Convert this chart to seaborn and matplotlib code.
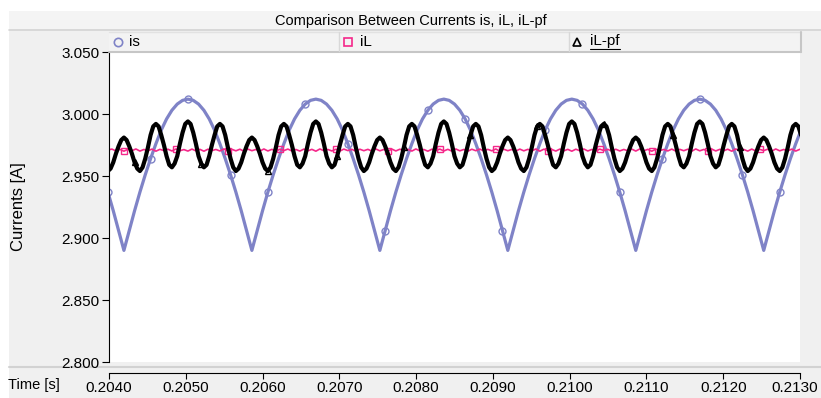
import numpy as np
import matplotlib
matplotlib.use('Agg')
import matplotlib.pyplot as plt
import matplotlib.transforms as mtransforms
import seaborn as sns
from matplotlib.patches import Rectangle
from matplotlib.lines import Line2D

# ---- data ----
title = "Comparison Between Currents is, iL, iL-pf"
series_names = ["is", "iL", "iL-pf"]
x_ticks = [0.2040, 0.2050, 0.2060, 0.2070, 0.2080, 0.2090, 0.2100, 0.2110, 0.2120, 0.2130]
x_labels = ["0.2040", "0.2050", "0.2060", "0.2070", "0.2080", "0.2090", "0.2100", "0.2110", "0.2120", "0.2130"]
y_ticks = [2.800, 2.850, 2.900, 2.950, 3.000, 3.050]
y_labels = ["2.800", "2.850", "2.900", "2.950", "3.000", "3.050"]

# sampling of the traces
t_first = 0.203986
is_period = 1 / 600
is_step = is_period / 24
il_step = is_period / 32
pf_step = is_period / 48

# source current is (rectified-looking humps)
is_vals = [
    2.937, 2.922, 2.906,
    2.890, 2.906, 2.922, 2.937, 2.951, 2.964, 2.976, 2.987, 2.996, 3.003, 3.008, 3.011,
    3.012, 3.011, 3.008, 3.003, 2.996, 2.987, 2.976, 2.964, 2.951, 2.937, 2.922, 2.906,
    2.890, 2.906, 2.922, 2.937, 2.951, 2.964, 2.976, 2.987, 2.996, 3.003, 3.008, 3.011,
    3.012, 3.011, 3.008, 3.003, 2.996, 2.987, 2.976, 2.964, 2.951, 2.937, 2.922, 2.906,
    2.890, 2.906, 2.922, 2.937, 2.951, 2.964, 2.976, 2.987, 2.996, 3.003, 3.008, 3.011,
    3.012, 3.011, 3.008, 3.003, 2.996, 2.987, 2.976, 2.964, 2.951, 2.937, 2.922, 2.906,
    2.890, 2.906, 2.922, 2.937, 2.951, 2.964, 2.976, 2.987, 2.996, 3.003, 3.008, 3.011,
    3.012, 3.011, 3.008, 3.003, 2.996, 2.987, 2.976, 2.964, 2.951, 2.937, 2.922, 2.906,
    2.890, 2.906, 2.922, 2.937, 2.951, 2.964, 2.976, 2.987, 2.996, 3.003, 3.008, 3.011,
    3.012, 3.011, 3.008, 3.003, 2.996, 2.987, 2.976, 2.964, 2.951, 2.937, 2.922, 2.906,
    2.890, 2.906, 2.922, 2.937, 2.951, 2.964, 2.976, 2.987,
]

# load current iL (flat with small ripple)
il_vals = [
    2.9710, 2.9717, 2.9702, 2.9715, 2.9700, 2.9716, 2.9704, 2.9718, 2.9701, 2.9714, 2.9703, 2.9717, 2.9700, 2.9715, 2.9705, 2.9716,
    2.9702, 2.9718, 2.9704, 2.9713, 2.9701, 2.9717, 2.9703, 2.9715, 2.9700, 2.9716, 2.9705, 2.9714, 2.9702, 2.9718, 2.9701, 2.9715,
    2.9703, 2.9716, 2.9700, 2.9717, 2.9704, 2.9714, 2.9701, 2.9718, 2.9702, 2.9715, 2.9700, 2.9716, 2.9705, 2.9717, 2.9702, 2.9714,
    2.9701, 2.9717, 2.9703, 2.9715, 2.9700, 2.9718, 2.9704, 2.9714, 2.9702, 2.9716, 2.9701, 2.9717, 2.9705, 2.9715, 2.9700, 2.9716,
    2.9704, 2.9715, 2.9701, 2.9718, 2.9703, 2.9714, 2.9700, 2.9717, 2.9702, 2.9716, 2.9704, 2.9715, 2.9701, 2.9718, 2.9703, 2.9714,
    2.9700, 2.9716, 2.9705, 2.9717, 2.9702, 2.9715, 2.9701, 2.9718, 2.9703, 2.9714, 2.9700, 2.9716, 2.9704, 2.9717, 2.9702, 2.9715,
    2.9703, 2.9718, 2.9700, 2.9716, 2.9704, 2.9714, 2.9701, 2.9717, 2.9703, 2.9715, 2.9702, 2.9718, 2.9700, 2.9716, 2.9705, 2.9714,
    2.9701, 2.9717, 2.9703, 2.9715, 2.9700, 2.9716, 2.9704, 2.9718, 2.9702, 2.9714, 2.9701, 2.9717, 2.9705, 2.9715, 2.9700, 2.9716,
    2.9702, 2.9714, 2.9704, 2.9717, 2.9701, 2.9718, 2.9703, 2.9715, 2.9700, 2.9716, 2.9705, 2.9714, 2.9702, 2.9717, 2.9701, 2.9715,
    2.9704, 2.9716, 2.9700, 2.9718, 2.9703, 2.9714, 2.9701, 2.9717, 2.9702, 2.9715, 2.9704, 2.9716, 2.9700, 2.9718, 2.9703, 2.9714,
    2.9701, 2.9717, 2.9702, 2.9715, 2.9705, 2.9716, 2.9700, 2.9718, 2.9703, 2.9714, 2.9702, 2.9717, 2.9701, 2.9715, 2.9710,
]

# filter current iL-pf (four ripples per is period)
ilpf_vals = [
    2.954, 2.956, 2.961, 2.968, 2.974, 2.979,
    2.981, 2.979, 2.974, 2.968, 2.961, 2.956, 2.954, 2.957, 2.964, 2.973, 2.983, 2.990,
    2.992, 2.990, 2.983, 2.975, 2.966, 2.959, 2.957, 2.960, 2.966, 2.976, 2.985, 2.992,
    2.994, 2.992, 2.985, 2.976, 2.966, 2.960, 2.957, 2.959, 2.966, 2.975, 2.983, 2.990,
    2.992, 2.990, 2.983, 2.973, 2.964, 2.957, 2.954, 2.956, 2.961, 2.968, 2.974, 2.979,
    2.981, 2.979, 2.974, 2.968, 2.961, 2.956, 2.954, 2.957, 2.964, 2.973, 2.983, 2.990,
    2.992, 2.990, 2.983, 2.975, 2.966, 2.959, 2.957, 2.960, 2.966, 2.976, 2.985, 2.992,
    2.994, 2.992, 2.985, 2.976, 2.966, 2.960, 2.957, 2.959, 2.966, 2.975, 2.983, 2.990,
    2.992, 2.990, 2.983, 2.973, 2.964, 2.957, 2.954, 2.956, 2.961, 2.968, 2.974, 2.979,
    2.981, 2.979, 2.974, 2.968, 2.961, 2.956, 2.954, 2.957, 2.964, 2.973, 2.983, 2.990,
    2.992, 2.990, 2.983, 2.975, 2.966, 2.959, 2.957, 2.960, 2.966, 2.976, 2.985, 2.992,
    2.994, 2.992, 2.985, 2.976, 2.966, 2.960, 2.957, 2.959, 2.966, 2.975, 2.983, 2.990,
    2.992, 2.990, 2.983, 2.973, 2.964, 2.957, 2.954, 2.956, 2.961, 2.968, 2.974, 2.979,
    2.981, 2.979, 2.974, 2.968, 2.961, 2.956, 2.954, 2.957, 2.964, 2.973, 2.983, 2.990,
    2.992, 2.990, 2.983, 2.975, 2.966, 2.959, 2.957, 2.960, 2.966, 2.976, 2.985, 2.992,
    2.994, 2.992, 2.985, 2.976, 2.966, 2.960, 2.957, 2.959, 2.966, 2.975, 2.983, 2.990,
    2.992, 2.990, 2.983, 2.973, 2.964, 2.957, 2.954, 2.956, 2.961, 2.968, 2.974, 2.979,
    2.981, 2.979, 2.974, 2.968, 2.961, 2.956, 2.954, 2.957, 2.964, 2.973, 2.983, 2.990,
    2.992, 2.990, 2.983, 2.975, 2.966, 2.959, 2.957, 2.960, 2.966, 2.976, 2.985, 2.992,
    2.994, 2.992, 2.985, 2.976, 2.966, 2.960, 2.957, 2.959, 2.966, 2.975, 2.983, 2.990,
    2.992, 2.990, 2.983, 2.973, 2.964, 2.957, 2.954, 2.956, 2.961, 2.968, 2.974, 2.979,
    2.981, 2.979, 2.974, 2.968, 2.961, 2.956, 2.954, 2.957, 2.964, 2.973, 2.983, 2.990,
    2.992, 2.990, 2.983,
]

t_is = t_first + is_step * np.arange(len(is_vals))
t_il = t_first + il_step * np.arange(len(il_vals))
t_ilpf = t_first + pf_step * np.arange(len(ilpf_vals))

# ---- style ----
sns.set_style("white")
plt.rcParams['font.family'] = ['Liberation Sans', 'DejaVu Sans']
plt.rcParams['text.color'] = 'black'
plt.rcParams['xtick.color'] = 'black'
plt.rcParams['ytick.color'] = 'black'

IS_COLOR = '#7f83c7'
IL_COLOR = '#f5288a'
PF_COLOR = 'black'

W, H = 821, 398
fig = plt.figure(figsize=(W / 100, H / 100), dpi=100, facecolor='white')


def fx(x):
    return x / W


def fy(y):
    return 1 - y / H


def box(x0, y0, x1, y1, color, z):
    fig.patches.append(Rectangle((fx(x0), fy(y1)), fx(x1) - fx(x0), fy(y0) - fy(y1),
                                 transform=fig.transFigure, facecolor=color,
                                 edgecolor='none', zorder=z))


def seg(x0, y0, x1, y1, color, lw, z):
    fig.lines.append(Line2D([fx(x0), fx(x1)], [fy(y0), fy(y1)], transform=fig.transFigure,
                            color=color, lw=lw, zorder=z))


def marks(start, n, every):
    idx = np.round(np.arange(start, n, every)).astype(int)
    return [int(i) for i in idx if i < n]


# window chrome: gray panel, title band, legend bar, separator
box(9, 11, W, H, '#f0f0f0', -10)
box(9, 11, W, 29, '#f4f4f4', -9)
seg(9, 30, W, 30, '#d4d4d4', 1.2, -8)
seg(9, 367, W, 367, '#d2d2d2', 1.5, -8)
box(109, 32, 801, 51, '#f3f3f3', 5)
seg(109, 32, 801, 32, '#e2e2e2', 1, 6)
seg(109, 51.5, 801, 51.5, '#c6c6c6', 1.5, 6)
seg(800.5, 32, 800.5, 52, '#c6c6c6', 1.5, 6)
seg(339, 32, 339, 51, '#d8d8d8', 1, 6)
seg(569, 32, 569, 51, '#d8d8d8', 1, 6)

fig.text(fx(411), fy(20.5), title, ha='center', va='center', fontsize=10.5)
fig.text(fx(18), fy(207), "Currents [A]", rotation=90, ha='center', va='center', fontsize=12)
fig.text(fx(8), fy(385), "Time [s]", ha='left', va='center', fontsize=10.5)

# legend entries
leg = [(118, 'o', IS_COLOR, 129), (347.5, 's', IL_COLOR, 360), (577, '^', PF_COLOR, 590)]
for (mx, mk, col, tx), name in zip(leg, series_names):
    fig.lines.append(Line2D([fx(mx)], [fy(41.5)], transform=fig.transFigure, marker=mk,
                            ms=6, mfc='none', mec=col, mew=1.2, zorder=7))
    fig.text(fx(tx), fy(41.5), name, ha='left', va='center', fontsize=11, zorder=7)
seg(590, 49, 620, 49, 'black', 0.8, 7)

# ---- plot ----
ax = fig.add_axes([fx(109), fy(362), fx(800) - fx(109), fy(52) - fy(362)])
ax.set_facecolor('white')

sns.lineplot(x=t_is, y=is_vals, ax=ax, color=IS_COLOR, lw=2.3, estimator=None,
             marker='o', ms=5, mfc='none', mec=IS_COLOR, mew=1,
             markevery=marks(0.3, len(is_vals), 7.4))
sns.lineplot(x=t_il, y=il_vals, ax=ax, color=IL_COLOR, lw=1.2, estimator=None,
             marker='s', ms=5, mfc='none', mec=IL_COLOR, mew=1,
             markevery=marks(3.5, len(il_vals), 13.3))
sns.lineplot(x=t_ilpf, y=ilpf_vals, ax=ax, color=PF_COLOR, lw=3.0, estimator=None,
             marker='^', ms=5, mfc='none', mec=PF_COLOR, mew=1,
             markevery=marks(10.1, len(ilpf_vals), 25.2))

ax.set_xlim(0.2040, 0.2130)
ax.set_ylim(2.800, 3.050)
ax.set_xticks(x_ticks)
ax.set_xticklabels(x_labels)
ax.set_yticks(y_ticks)
ax.set_yticklabels(y_labels)
ax.set_xlabel("")
ax.set_ylabel("")

for s in ['top', 'right']:
    ax.spines[s].set_visible(False)
for s in ['left', 'bottom']:
    ax.spines[s].set_color('black')
    ax.spines[s].set_linewidth(0.8)
ax.spines['bottom'].set_position(('outward', 8))
ax.tick_params(axis='y', direction='out', length=5, width=0.8, pad=2, labelsize=11, left=True)
ax.tick_params(axis='x', direction='out', length=4, width=0.8, pad=2, labelsize=11, bottom=True)

# keep the last time label inside the window
last = ax.get_xticklabels()[-1]
last.set_transform(last.get_transform() +
                   mtransforms.ScaledTranslation(-0.05, 0, fig.dpi_scale_trans))

fig.savefig('out.png', dpi=100)
plt.close(fig)
